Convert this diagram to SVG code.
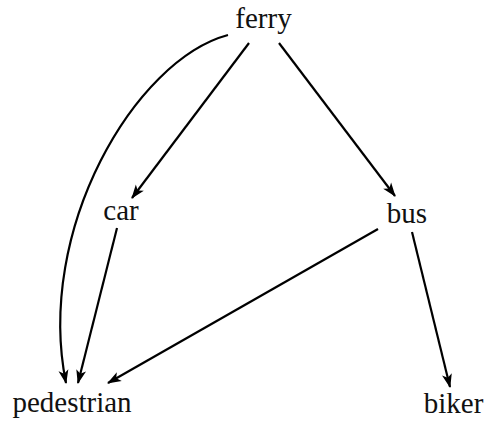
<svg xmlns="http://www.w3.org/2000/svg" width="486" height="422" viewBox="0 0 486 422">
<style>
text{font-family:'Times New Roman','Liberation Serif','DejaVu Serif',serif;font-size:29px;fill:#111;text-anchor:middle}
.e{fill:none;stroke:#000;stroke-width:2.2}
</style>
<defs>
<marker id="ah" markerUnits="userSpaceOnUse" markerWidth="16" markerHeight="12" refX="13" refY="5" orient="auto" overflow="visible">
<path d="M0,0 L14,5 L0,10 L3.5,5 z" fill="#000"/>
</marker>
</defs>
<rect width="486" height="422" fill="#fff"/>
<g id="edges">
<path class="e" d="M228,35 C135,60 35,230 66,383" marker-end="url(#ah)"/>
<path class="e" d="M249,43 L132,198" marker-end="url(#ah)"/>
<path class="e" d="M279,43 L395,196" marker-end="url(#ah)"/>
<path class="e" d="M117,228 L78,383" marker-end="url(#ah)"/>
<path class="e" d="M378,229 L108,383" marker-end="url(#ah)"/>
<path class="e" d="M412,232 L450,387" marker-end="url(#ah)"/>
</g>
<g id="ferry"><text x="263.5" y="28" font-family="Liberation Serif, serif">ferry</text></g>
<g id="car"><text x="121" y="220" font-family="Liberation Serif, serif">car</text></g>
<g id="bus"><text x="407" y="223" font-family="Liberation Serif, serif">bus</text></g>
<g id="pedestrian"><text x="72" y="412" font-family="Liberation Serif, serif">pedestrian</text></g>
<g id="biker"><text x="453.5" y="413" font-family="Liberation Serif, serif">biker</text></g>
</svg>
